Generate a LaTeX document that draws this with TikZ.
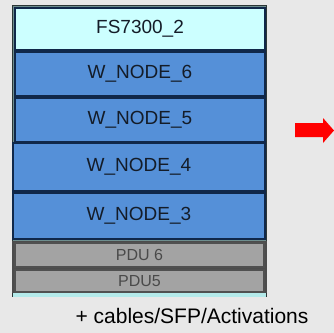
\documentclass[tikz,border=0pt]{standalone}
\usepackage{fontspec}
\setmainfont{Liberation Sans}
\begin{document}
\begin{tikzpicture}[x=1bp,y=-1bp,
  unitbox/.style={draw=#1, anchor=north west, inner sep=0pt, outer sep=0pt},
  bladebox/.style={unitbox=nodeedge, line width=1.4bp, fill=nodeblue,
    text=nodetext, font=\fontsize{19bp}{21bp}\selectfont},
  pdubox/.style={unitbox=pduedge, line width=1.2bp, fill=pdugray,
    text=pdutext, font=\fontsize{16bp}{18bp}\selectfont},
]
\definecolor{bgray}{HTML}{E8E8E8}
\definecolor{nodeblue}{HTML}{5590D8}
\definecolor{nodeedge}{HTML}{10284A}
\definecolor{nodetext}{HTML}{141C28}
\definecolor{headfill}{HTML}{CCFFFF}
\definecolor{rackedge}{HTML}{2C3636}
\definecolor{rackfill}{HTML}{6E8E8E}
\definecolor{pdugray}{HTML}{A3A3A3}
\definecolor{pduedge}{HTML}{505050}
\definecolor{pdutext}{HTML}{4A4A4A}
\definecolor{pduframe}{HTML}{4C4C4C}
\definecolor{strip}{HTML}{B4EAEA}

% canvas
\fill[bgray] (0,0) rectangle (334,333);
\useasboundingbox (0,0) rectangle (334,333);

% rack frame
\fill[rackfill] (12,5) rectangle (267,297);
\draw[rackedge, line width=1bp] (12.5,5.5) rectangle (266.5,296.5);

% head unit and compute blades
\node[unitbox=nodeedge, line width=1.4bp, fill=headfill, text=nodetext,
      font=\fontsize{19bp}{21bp}\selectfont,
      minimum width=250bp, minimum height=42bp] (fs) at (15,8) {FS7300\_2};
\node[bladebox, minimum width=250bp, minimum height=44bp] (w6) at (15,52) {W\_NODE\_6};
\node[bladebox, minimum width=250bp, minimum height=44bp] (w5) at (15,98) {W\_NODE\_5};
\node[bladebox, minimum width=252bp, minimum height=48bp] (w4) at (13,143) {W\_NODE\_4};
\node[bladebox, minimum width=252bp, minimum height=46bp] (w3) at (13,193) {W\_NODE\_3};

% power distribution units
\fill[pduframe] (12,240.5) rectangle (267,293);
\fill[strip] (13,293) rectangle (266,297);
\node[pdubox, minimum width=249bp, minimum height=24bp] (pdu6) at (15,243) {PDU 6};
\node[pdubox, minimum width=249bp, minimum height=22bp] (pdu5) at (15,270) {PDU5};

% extras note
\node[font=\fontsize{21bp}{23bp}\selectfont, text=black, inner sep=0pt]
  (note) at (192,316) {+ cables/SFP/Activations};

% red arrow at the right edge
\fill[red] (295,123) -- (323,123) -- (323,118) -- (334,130.5)
  -- (323,143) -- (323,137) -- (295,137) -- cycle;
\end{tikzpicture}
\end{document}
